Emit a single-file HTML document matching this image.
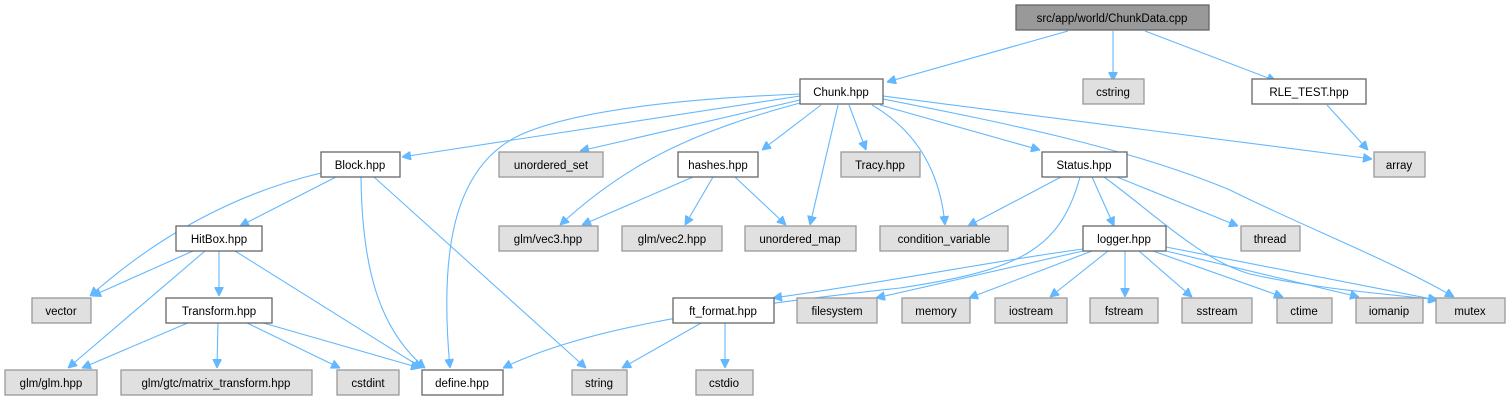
<!DOCTYPE html>
<html><head><meta charset="utf-8"><style>
html,body{margin:0;padding:0;background:#fff;}
svg{display:block;}
text{font-family:"Liberation Sans",Helvetica,sans-serif;font-size:11.5px;fill:#000;text-anchor:middle;}
.w{fill:#fff;stroke:#666;stroke-width:1.3;}
.g{fill:#e0e0e0;stroke:#999;stroke-width:1.3;}
.r{fill:#999;stroke:#666;stroke-width:1.3;}
path{fill:none;stroke:#63b8ff;stroke-width:1.1;}
</style></head><body>
<svg width="1508" height="403" viewBox="0 0 1508 403" xmlns="http://www.w3.org/2000/svg">
<defs><marker id="a" viewBox="0 0 10 10" refX="10" refY="5" markerWidth="9" markerHeight="9" orient="auto" markerUnits="userSpaceOnUse"><path d="M0,0L10,5L0,10z" style="fill:#63b8ff;stroke:#63b8ff"/></marker></defs>
<g marker-end="url(#a)">
<path d="M1068,31L887,82"/>
<path d="M1113,31L1113,81"/>
<path d="M1145,31L1276,81"/>
<path d="M1327,105L1368,150"/>
<path d="M800,96L402,157"/>
<path d="M800,94C700,98 580,108 520,135C450,168 440,260 450,368"/>
<path d="M800,100L580,151"/>
<path d="M800,103C700,130 630,160 560,225"/>
<path d="M821,105L762,150"/>
<path d="M838,105L810,225"/>
<path d="M849,105L866,150"/>
<path d="M872,105C915,130 940,170 945,225"/>
<path d="M880,105L1040,150"/>
<path d="M883,99C1000,122 1130,148 1230,190C1300,225 1390,260 1454,297"/>
<path d="M883,96L1372,159"/>
<path d="M321,173C250,190 170,225 90,296"/>
<path d="M336,177L240,226"/>
<path d="M361,177C362,270 380,330 425,368"/>
<path d="M374,177L586,368"/>
<path d="M193,251L92,296"/>
<path d="M205,251L68,368"/>
<path d="M219,251L219,296"/>
<path d="M235,251L422,368"/>
<path d="M190,322L82,368"/>
<path d="M218,322L217,368"/>
<path d="M245,322L340,368"/>
<path d="M260,322L420,368"/>
<path d="M693,177L582,225"/>
<path d="M713,177L685,225"/>
<path d="M735,177L786,225"/>
<path d="M1061,177L968,226"/>
<path d="M1080,177C1060,250 1020,270 900,288C700,310 580,330 503,368"/>
<path d="M1092,177L1114,226"/>
<path d="M1104,177C1150,210 1200,260 1250,274C1320,290 1400,295 1438,300"/>
<path d="M1117,177L1238,226"/>
<path d="M1083,249C1000,260 900,280 773,298"/>
<path d="M1083,251L876,298"/>
<path d="M1092,251L969,298"/>
<path d="M1108,251L1050,297"/>
<path d="M1125,251L1125,297"/>
<path d="M1139,251L1192,297"/>
<path d="M1153,251L1283,297"/>
<path d="M1166,251L1359,297"/>
<path d="M1166,247L1437,300"/>
<path d="M703,322L622,368"/>
<path d="M725,322L725,368"/>
</g>
<g>
<rect class="r" x="1016" y="5" width="193" height="25"/><text x="1112" y="22">src/app/world/ChunkData.cpp</text>
<rect class="w" x="800" y="79" width="83" height="25"/><text x="841" y="96">Chunk.hpp</text>
<rect class="g" x="1083" y="79" width="61" height="25"/><text x="1113" y="96">cstring</text>
<rect class="w" x="1252" y="79" width="114" height="25"/><text x="1309" y="96">RLE_TEST.hpp</text>
<rect class="w" x="321" y="152" width="79" height="25"/><text x="360" y="169">Block.hpp</text>
<rect class="g" x="499" y="152" width="104" height="25"/><text x="551" y="169">unordered_set</text>
<rect class="w" x="678" y="152" width="80" height="25"/><text x="718" y="169">hashes.hpp</text>
<rect class="g" x="841" y="152" width="79" height="25"/><text x="880" y="169">Tracy.hpp</text>
<rect class="w" x="1042" y="152" width="85" height="25"/><text x="1084" y="169">Status.hpp</text>
<rect class="g" x="1374" y="152" width="51" height="25"/><text x="1399" y="169">array</text>
<rect class="w" x="176" y="226" width="86" height="25"/><text x="219" y="243">HitBox.hpp</text>
<rect class="g" x="499" y="226" width="99" height="25"/><text x="548" y="243">glm/vec3.hpp</text>
<rect class="g" x="622" y="226" width="100" height="25"/><text x="672" y="243">glm/vec2.hpp</text>
<rect class="g" x="745" y="226" width="111" height="25"/><text x="800" y="243">unordered_map</text>
<rect class="g" x="880" y="226" width="128" height="25"/><text x="944" y="243">condition_variable</text>
<rect class="w" x="1083" y="226" width="83" height="25"/><text x="1124" y="243">logger.hpp</text>
<rect class="g" x="1241" y="226" width="59" height="25"/><text x="1270" y="243">thread</text>
<rect class="g" x="32" y="298" width="59" height="25"/><text x="61" y="315">vector</text>
<rect class="w" x="166" y="298" width="106" height="25"/><text x="219" y="315">Transform.hpp</text>
<rect class="w" x="673" y="298" width="101" height="25"/><text x="723" y="315">ft_format.hpp</text>
<rect class="g" x="797" y="298" width="80" height="25"/><text x="837" y="315">filesystem</text>
<rect class="g" x="902" y="298" width="68" height="25"/><text x="936" y="315">memory</text>
<rect class="g" x="995" y="298" width="72" height="25"/><text x="1031" y="315">iostream</text>
<rect class="g" x="1090" y="298" width="68" height="25"/><text x="1124" y="315">fstream</text>
<rect class="g" x="1182" y="298" width="70" height="25"/><text x="1217" y="315">sstream</text>
<rect class="g" x="1277" y="298" width="55" height="25"/><text x="1304" y="315">ctime</text>
<rect class="g" x="1356" y="298" width="67" height="25"/><text x="1389" y="315">iomanip</text>
<rect class="g" x="1436" y="298" width="69" height="25"/><text x="1470" y="315">mutex</text>
<rect class="g" x="5" y="370" width="92" height="25"/><text x="51" y="387">glm/glm.hpp</text>
<rect class="g" x="121" y="370" width="191" height="25"/><text x="216" y="387">glm/gtc/matrix_transform.hpp</text>
<rect class="g" x="337" y="370" width="62" height="25"/><text x="368" y="387">cstdint</text>
<rect class="w" x="422" y="370" width="81" height="25"/><text x="462" y="387">define.hpp</text>
<rect class="g" x="572" y="370" width="55" height="25"/><text x="599" y="387">string</text>
<rect class="g" x="696" y="370" width="57" height="25"/><text x="724" y="387">cstdio</text>
</g>
</svg>
</body></html>
